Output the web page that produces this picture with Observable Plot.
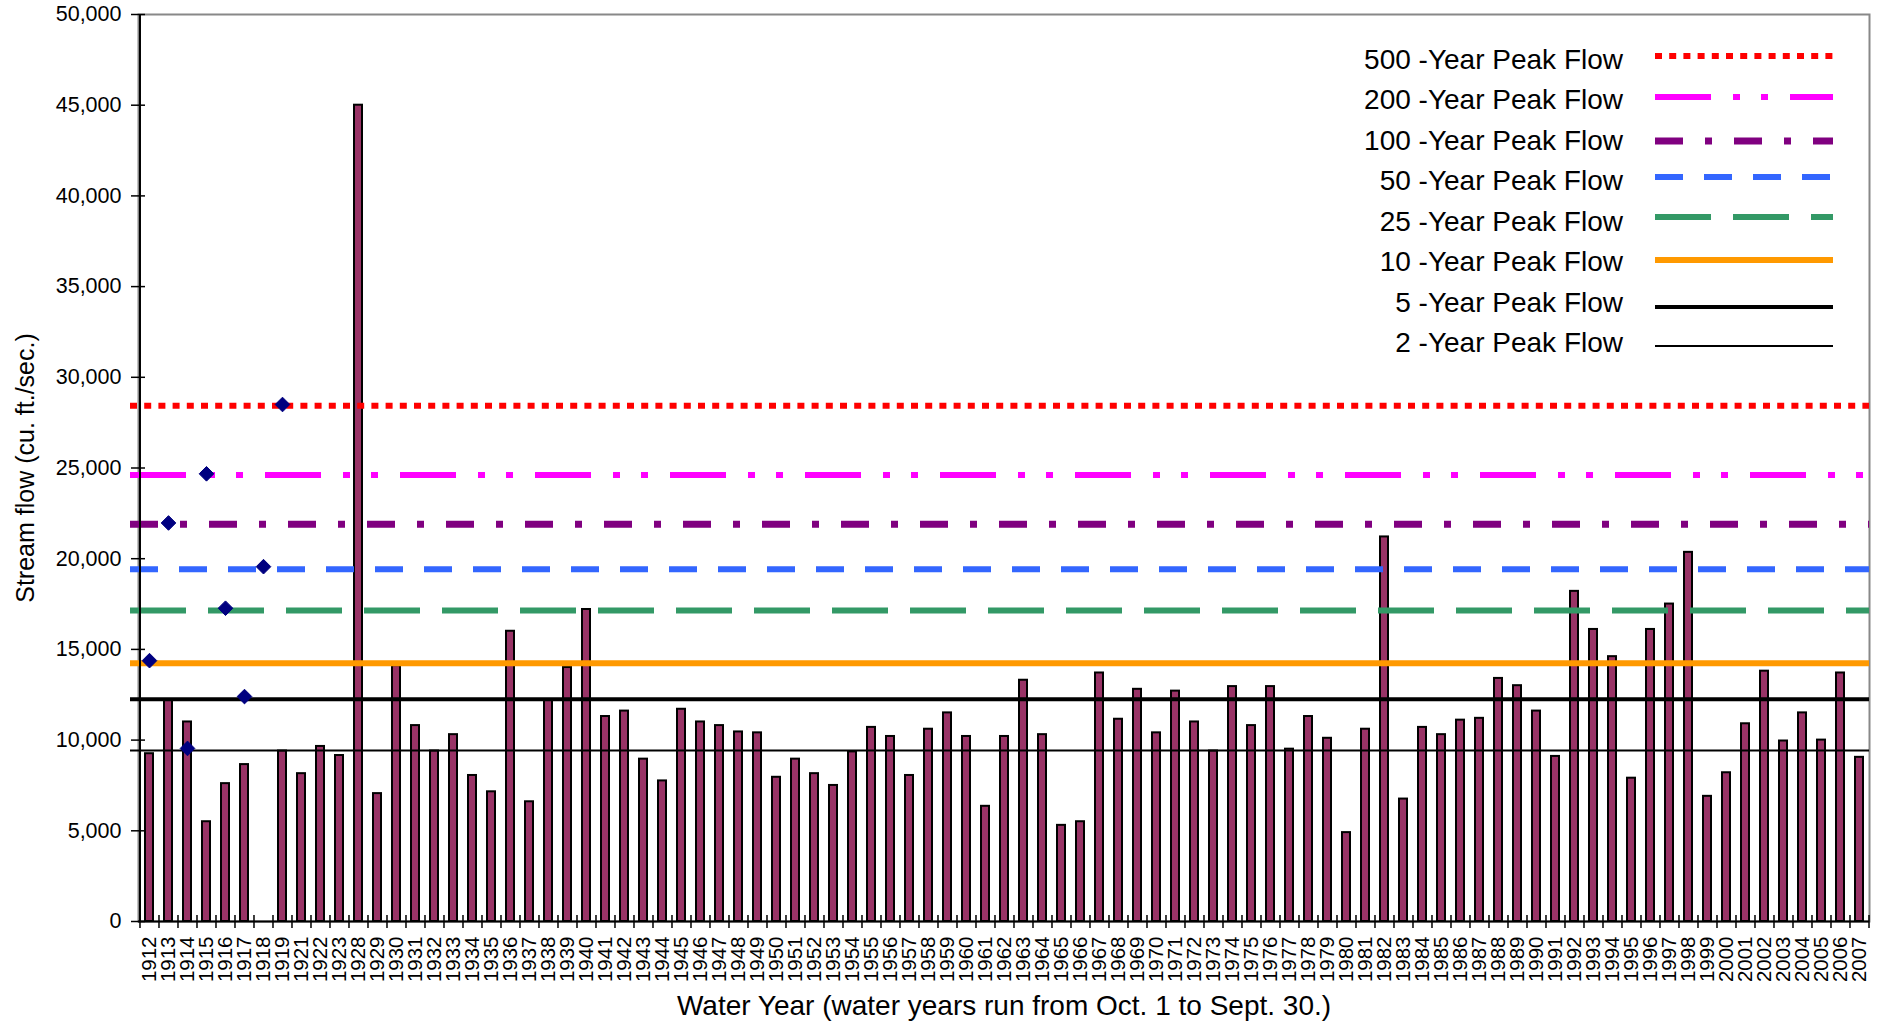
<!DOCTYPE html>
<html><head><meta charset="utf-8">
<script src="https://cdn.jsdelivr.net/npm/d3@7"></script>
<script src="https://cdn.jsdelivr.net/npm/@observablehq/plot@0.6"></script>
<style>
body{margin:0;background:#fff;font-family:"Liberation Sans",Arial,sans-serif;}
#wrap{position:relative;width:1879px;height:1024px;}
#legend{position:absolute;left:0;top:0;width:1879px;height:0;}
</style></head><body>
<div id="wrap"><div id="chart"></div><div id="legend"></div></div>
<script>
// ---- data ----
const years = ["1912","1913","1914","1915","1916","1917","1918","1919","1921","1922","1923",
"1928","1929","1930","1931","1932","1933","1934","1935","1936","1937","1938","1939","1940",
"1941","1942","1943","1944","1945","1946","1947","1948","1949","1950","1951","1952","1953",
"1954","1955","1956","1957","1958","1959","1960","1961","1962","1963","1964","1965","1966",
"1967","1968","1969","1970","1971","1972","1973","1974","1975","1976","1977","1978","1979",
"1980","1981","1982","1983","1984","1985","1986","1987","1988","1989","1990","1991","1992",
"1993","1994","1995","1996","1997","1998","1999","2000","2001","2002","2003","2004","2005",
"2006","2007"];
const flows = [9250,12200,11000,5500,7600,8650,null,9400,8150,9650,9150,
45000,7050,14100,10800,9400,10300,8050,7150,16000,6600,12200,14000,17200,
11300,11600,8950,7750,11700,11000,10800,10450,10400,7950,8950,8150,7500,
9350,10700,10200,8050,10600,11500,10200,6350,10200,13300,10300,5300,5500,
13700,11150,12800,10400,12700,11000,9400,12950,10800,12950,9500,11300,10100,
4900,10600,21200,6750,10700,10300,11100,11200,13400,13000,11600,9100,18200,
16100,14600,7900,16100,17500,20350,6900,8200,10900,13800,9950,11500,10000,
13700,9050];
const periods = ["500","200","100","50","25","10","5","2"];
const peakFlows = [28430,24620,21900,19420,17140,14230,12250,9420];
const markerYears = ["1919","1915","1913","1918","1916","1912","1917","1914"];
const markerFlows = [28500,24680,21970,19560,17270,14380,12400,9540];
const yTicks = [0,5000,10000,15000,20000,25000,30000,35000,40000,45000,50000];
const xTitle = "Water Year (water years run from Oct. 1 to Sept. 30.)";
const yTitle = "Stream flow (cu. ft./sec.)";

// ---- styles ----
const lineStyles = [
  {color:"#ff0000", width:6, dash:"7,7.2"},
  {color:"#ff00ff", width:6, dash:"56,22,7,21,7,22"},
  {color:"#800080", width:7, dash:"28,22,7,22"},
  {color:"#3366ff", width:6, dash:"28,21"},
  {color:"#339966", width:6, dash:"56,22"},
  {color:"#ff9900", width:6, dash:null},
  {color:"#000000", width:4, dash:null},
  {color:"#000000", width:2, dash:null}
];
const legendTextY = [60, 100, 141, 181, 222, 262, 303, 343];
const legendLineY = [56, 97, 141, 177, 217, 260, 307, 346];

const W = 1879, H = 1024, mL = 138, mR = 10, mT = 14, mB = 103;
const step = (W - mL - mR) / years.length;
const font = '"Liberation Sans", Arial, sans-serif';

const barData = years.map((y, i) => ({year: y, flow: flows[i]})).filter(d => d.flow != null);
const markers = markerYears.map((y, i) => ({year: y, flow: markerFlows[i]}));

const chart = Plot.plot({
  width: W, height: H,
  marginLeft: mL, marginRight: mR, marginTop: mT, marginBottom: mB,
  style: {fontFamily: font, color: "#000", background: "#fff", overflow: "visible"},
  x: {type: "band", domain: years, paddingInner: 0.6, paddingOuter: 0.3, label: null},
  y: {domain: [0, 50000], label: null},
  marks: [
    Plot.frame({stroke: "#888", strokeWidth: 2}),
    Plot.barY(barData, {x: "year", y: "flow", fill: "#993366", stroke: "#000", strokeWidth: 2}),
    ...periods.map((p, i) => Plot.ruleY([peakFlows[i]], {
      stroke: lineStyles[i].color, strokeWidth: lineStyles[i].width,
      strokeDasharray: lineStyles[i].dash, insetLeft: -8
    })),
    Plot.dot(markers, {x: "year", y: "flow", symbol: "diamond2", r: 6.6, fill: "#000080", stroke: "#000080", strokeWidth: 1}),
    Plot.ruleY([0], {stroke: "#000", strokeWidth: 2}),
    Plot.ruleX([years[0]], {dx: -step / 2, stroke: "#000", strokeWidth: 2}),
    Plot.axisY(yTicks, {tickFormat: d3.format(","), tickSize: 14, dx: 7, tickPadding: 10, fontSize: 21.5, label: null, strokeWidth: 1.5}),
    Plot.axisX({tickSize: 13, dx: -step / 2, dy: -6, tickFormat: () => "", label: null, strokeWidth: 1.5}),
    Plot.axisX([years[years.length - 1]], {tickSize: 13, dx: step / 2, dy: -6, tickFormat: () => "", label: null, strokeWidth: 1.5}),
    Plot.axisX({tickSize: 0, tickRotate: -90, tickPadding: 15, fontSize: 20.5, label: null}),
    Plot.text([xTitle], {frameAnchor: "bottom", dy: 85, lineAnchor: "middle", textAnchor: "middle", fontSize: 28, fill: "#000", text: d => d}),
    Plot.text([yTitle], {frameAnchor: "left", dx: -113, rotate: -90, textAnchor: "middle", lineAnchor: "middle", fontSize: 25, fill: "#000", text: d => d})
  ]
});
document.getElementById("chart").appendChild(chart);

// ---- legend (HTML overlay) ----
const legend = d3.select("#legend");
periods.forEach((p, i) => {
  const cy = legendTextY[i];
  legend.append("div")
    .style("position", "absolute")
    .style("right", (W - 1623) + "px")
    .style("top", (cy - 16) + "px")
    .style("font-size", "28px")
    .style("line-height", "32px")
    .style("white-space", "nowrap")
    .text(`${p} -Year Peak Flow`);
  const s = lineStyles[i];
  legend.append("svg")
    .attr("width", 182).attr("height", 14)
    .style("position", "absolute")
    .style("left", "1653px")
    .style("top", (legendLineY[i] - 7) + "px")
    .append("line")
    .attr("x1", 2).attr("x2", 180).attr("y1", 7).attr("y2", 7)
    .attr("stroke", s.color).attr("stroke-width", s.width)
    .attr("stroke-dasharray", s.dash);
});
</script>
</body></html>
